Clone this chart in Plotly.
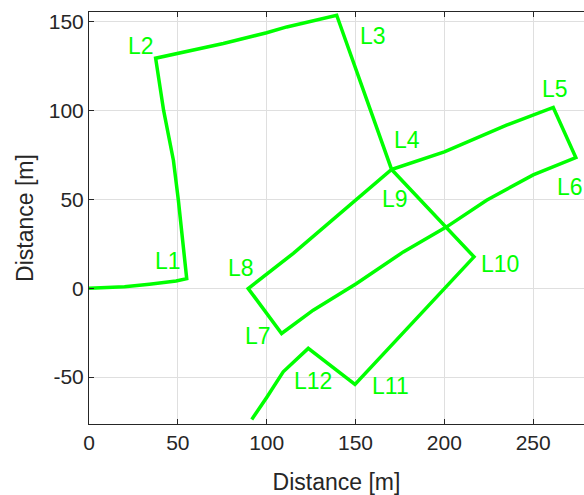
import plotly.graph_objects as go

# Trajectory (metres)
path_x = [0, 20, 34, 49, 55,
          53.1, 50.3, 47.5, 42, 37.5,
          50.3, 75.6, 100, 111.3, 139.4,
          170.3,
          200, 235, 261.3,
          274,
          250, 223.8, 201.3, 176.9, 150.6, 126.2, 108.4,
          89.6,
          115, 150.6, 170.3,
          216.7,
          149.7,
          123.4,
          109.3, 100, 91.6]
path_y = [0, 0.8, 2.2, 4.0, 5.3,
          25.2, 49.5, 72, 100, 129.4,
          132.1, 137.7, 143.7, 147, 153.6,
          66.8,
          76.7, 91.7, 101.7,
          73.5,
          63.7, 49.5, 34.5, 20.4, 2.6, -12.4, -25.5,
          -0.2,
          19.6, 49.8, 66.8,
          17.6,
          -54.2,
          -33.9,
          -47.1, -61.5, -73.9]

label_text = ["L1", "L2", "L3", "L4", "L5", "L6", "L7", "L8", "L9", "L10", "L11", "L12"]
label_x = [44.2, 29.5, 160.0, 178.8, 262.2, 270.5, 94.9, 85.4, 172.2, 231.3, 169.8, 125.8]
label_y = [15.5, 136.5, 142.1, 83.5, 112.2, 56.8, -26.9, 11.3, 50.0, 13.7, -55.0, -52.0]

x_ticks = [0, 50, 100, 150, 200, 250]
y_ticks = [-50, 0, 50, 100, 150]
y_ticktext = ["-50", "0", "50", "100", "150"]

TXT = "#262626"
GRID = "#dfdfdf"
GREEN = "#00ff00"

fig = go.Figure()
fig.add_trace(go.Scatter(x=path_x, y=path_y, mode="lines",
                         line=dict(color=GREEN, width=3.5), hoverinfo="skip",
                         showlegend=False))

for t, lx, ly in zip(label_text, label_x, label_y):
    fig.add_annotation(x=lx, y=ly, text=t, showarrow=False,
                       xanchor="center", yanchor="middle",
                       font=dict(family="Arial", size=23, color=GREEN))

fig.update_layout(
    width=584, height=495,
    margin=dict(l=89, r=0, t=12, b=71),
    paper_bgcolor="white", plot_bgcolor="white",
    font=dict(family="Arial", color=TXT),
    showlegend=False,
    xaxis=dict(range=[0, 278.6], tickvals=x_ticks, ticks="inside", ticklen=5,
               tickcolor=TXT, showline=True, linecolor=TXT, linewidth=1,
               mirror="ticks", showgrid=True, gridcolor=GRID, gridwidth=1,
               zeroline=False, tickfont=dict(size=21, color=TXT),
               title=dict(text="Distance [m]", font=dict(size=23, color=TXT), standoff=20)),
    yaxis=dict(range=[-76.45, 155.4], tickvals=y_ticks, ticktext=y_ticktext,
               ticks="inside", ticklen=5, tickcolor=TXT, showline=True,
               linecolor=TXT, linewidth=1, mirror=False, showgrid=True,
               gridcolor=GRID, gridwidth=1, zeroline=False,
               tickfont=dict(size=21, color=TXT),
               title=dict(text="Distance [m]", font=dict(size=23, color=TXT), standoff=8)),
)

fig.write_html("out.html")
